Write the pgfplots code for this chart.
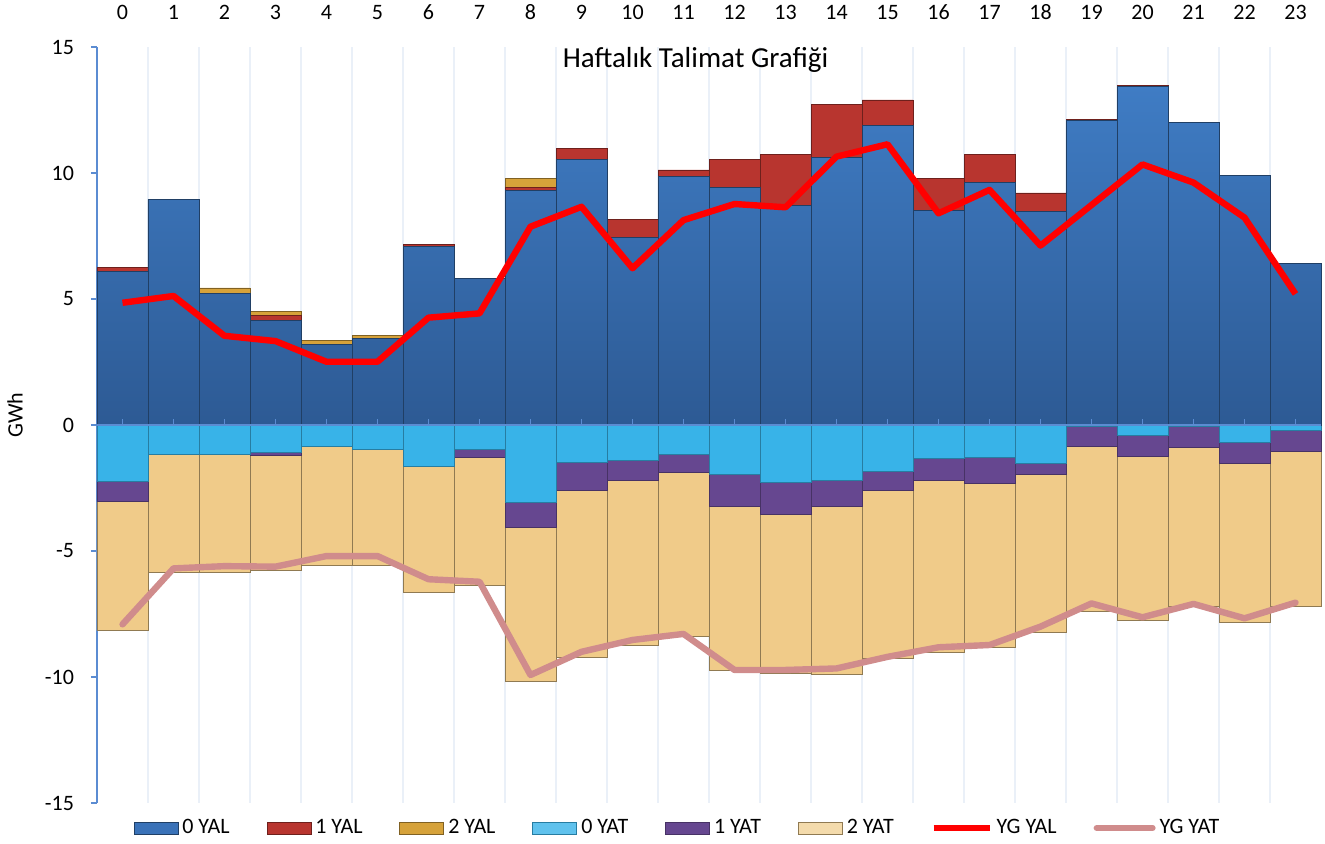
\documentclass[border=0pt]{standalone}
\usepackage{pgfplots}
\usepackage{pgfplotstable}
\pgfplotsset{compat=1.18}
\usepackage{fontspec}
\setmainfont{Carlito}

\definecolor{yalzero}{HTML}{3A72B8}
\definecolor{yalzerotop}{HTML}{3F7CC4}
\definecolor{yalzerobot}{HTML}{2D5A94}
\definecolor{yalone}{HTML}{B8352F}
\definecolor{yaltwo}{HTML}{D6A23A}
\definecolor{yatzero}{HTML}{38B3E8}
\definecolor{yatone}{HTML}{664790}
\definecolor{yattwo}{HTML}{F0CB89}
\definecolor{ygyal}{HTML}{FF0000}
\definecolor{ygyat}{HTML}{D08C8C}
\definecolor{axisblue}{HTML}{5B8CD2}
\definecolor{gridcol}{HTML}{EAF0F8}

% h, yal0/1/2 (positive stack), yat0/1/2 (negative stack), YG lines
\pgfplotstableread{
h yalA yalB yalC yatA yatB yatC ygyal ygyat
0 6.08 0.18 0.00 -2.22 -0.82 -5.12 4.85 -7.91
1 8.95 0.00 0.00 -1.16 0.00 -4.69 5.12 -5.69
2 5.23 0.00 0.21 -1.16 0.00 -4.69 3.54 -5.60
3 4.14 0.20 0.18 -1.10 -0.12 -4.53 3.33 -5.62
4 3.20 0.00 0.17 -0.86 0.00 -4.70 2.51 -5.20
5 3.44 0.00 0.13 -0.97 0.00 -4.59 2.51 -5.20
6 7.08 0.09 0.00 -1.65 0.00 -5.00 4.26 -6.12
7 5.82 0.00 0.00 -0.95 -0.35 -5.08 4.43 -6.22
8 9.29 0.14 0.36 -3.07 -0.99 -6.13 7.87 -9.92
9 10.54 0.45 0.00 -1.48 -1.11 -6.64 8.66 -9.00
10 7.45 0.71 0.00 -1.39 -0.82 -6.52 6.22 -8.53
11 9.88 0.24 0.00 -1.16 -0.73 -6.51 8.13 -8.29
12 9.43 1.11 0.00 -1.96 -1.25 -6.51 8.77 -9.72
13 8.73 2.00 0.00 -2.27 -1.26 -6.32 8.64 -9.72
14 10.60 2.13 0.00 -2.21 -1.00 -6.67 10.65 -9.66
15 11.89 1.01 0.00 -1.86 -0.73 -6.67 11.14 -9.20
16 8.50 1.29 0.00 -1.32 -0.89 -6.82 8.40 -8.82
17 9.63 1.11 0.00 -1.28 -1.04 -6.52 9.33 -8.73
18 8.49 0.72 0.00 -1.52 -0.44 -6.28 7.12 -8.00
19 12.09 0.04 0.00 -0.07 -0.79 -6.52 8.73 -7.08
20 13.43 0.03 0.00 -0.40 -0.86 -6.50 10.34 -7.63
21 12.01 0.00 0.00 -0.05 -0.85 -6.31 9.62 -7.10
22 9.92 0.00 0.00 -0.69 -0.83 -6.31 8.23 -7.67
23 6.40 0.00 0.00 -0.23 -0.83 -6.12 5.20 -7.05
}\data

\pgfplotsset{
  base/.style={
    at={(0,0)}, anchor=south west,
    width=612pt, height=378pt, scale only axis,
    xmin=-0.5, xmax=23.5, ymin=-15, ymax=15,
    enlargelimits=false, clip=false,
  },
  barlegend/.style={legend image code/.code={\draw[##1] (0pt,-3pt) rectangle (22pt,3pt);}},
  linelegend/.style={legend image code/.code={\draw[##1] (0pt,0pt) -- (28pt,0pt);}},
}

\begin{document}
\begin{tikzpicture}
\useasboundingbox (-48.5pt,-20pt) rectangle (614pt,401.5pt);

% frame axis: y axis, top labels, grid, negative stack
\begin{axis}[base,
  ybar stacked, bar width=1,
  axis y line*=left, axis x line*=top,
  x axis line style={draw=none},
  y axis line style={axisblue, line width=0.8pt, -},
  xtick={0,...,23},
  xtick style={draw=none},
  xticklabel style={font=\fontsize{11}{13}\selectfont, yshift=7pt},
  minor xtick={0.5,1.5,...,22.5},
  xminorgrids=true,
  minor grid style={gridcol, line width=0.8pt},
  minor tick length=0pt,
  ytick={-15,-10,...,15},
  tick align=outside,
  major tick length=3pt,
  ytick style={axisblue, line width=0.8pt},
  yticklabel style={font=\fontsize{11}{13}\selectfont, xshift=-5pt},
  /pgf/number format/assume math mode=true,
]
\addplot[fill=yatzero, draw=yatzero!70!black, line width=0.4pt] table[x=h, y=yatA] {\data};
\addplot[fill=yatone, draw=yatone!70!black, line width=0.4pt] table[x=h, y=yatB] {\data};
\addplot[fill=yattwo, draw=yattwo!60!black, line width=0.4pt] table[x=h, y=yatC] {\data};
\node[font=\fontsize{14.5}{17}\selectfont] at (axis description cs:0.489,0.983) {Haftalık Talimat Grafiği};
\node[rotate=90, font=\fontsize{11}{13}\selectfont] at (axis description cs:-0.067,0.513) {GWh};
\end{axis}

% positive stack with zero line
\begin{axis}[base,
  ybar stacked, bar width=1,
  axis x line=middle, axis y line=none,
  axis on top,
  x axis line style={axisblue, line width=0.8pt, -},
  xtick={0,...,23}, xticklabels={},
  xtick style={axisblue, line width=0.6pt},
  tick align=inside, major tick length=3pt,
  ytick=\empty,
]
\addplot[top color=yalzerotop, bottom color=yalzerobot, draw=yalzero!55!black, line width=0.4pt] table[x=h, y=yalA] {\data};
\addplot[fill=yalone, draw=yalone!60!black, line width=0.4pt] table[x=h, y=yalB] {\data};
\addplot[fill=yaltwo, draw=yaltwo!60!black, line width=0.4pt] table[x=h, y=yalC] {\data};
\end{axis}

% lines and legend
\begin{axis}[base,
  hide axis,
  legend style={at={(0.475,-0.033)}, anchor=center, draw=none, fill=none,
    legend columns=8, font=\fontsize{11}{13}\selectfont,
    /tikz/every even column/.append style={column sep=16.5pt}},
  legend cell align=left,
]
\addlegendimage{barlegend, fill=yalzero, draw=yalzero!55!black}
\addlegendimage{barlegend, fill=yalone, draw=yalone!60!black}
\addlegendimage{barlegend, fill=yaltwo, draw=yaltwo!60!black}
\addlegendimage{barlegend, fill=yatzero!80!white, draw=yatzero!70!black}
\addlegendimage{barlegend, fill=yatone, draw=yatone!70!black}
\addlegendimage{barlegend, fill=yattwo!70!white, draw=yattwo!60!black}
\addlegendimage{linelegend, ygyal, line width=3pt}
\addlegendimage{linelegend, ygyat, line width=3pt, line cap=round}
\addplot[ygyal, line width=3.2pt, line join=round, mark=none] table[x=h, y=ygyal] {\data};
\addplot[ygyat, line width=3.2pt, line join=round, line cap=round, mark=none] table[x=h, y=ygyat] {\data};
\legend{0 YAL, 1 YAL, 2 YAL, 0 YAT, 1 YAT, 2 YAT, YG YAL, YG YAT}
\end{axis}
\end{tikzpicture}
\end{document}
